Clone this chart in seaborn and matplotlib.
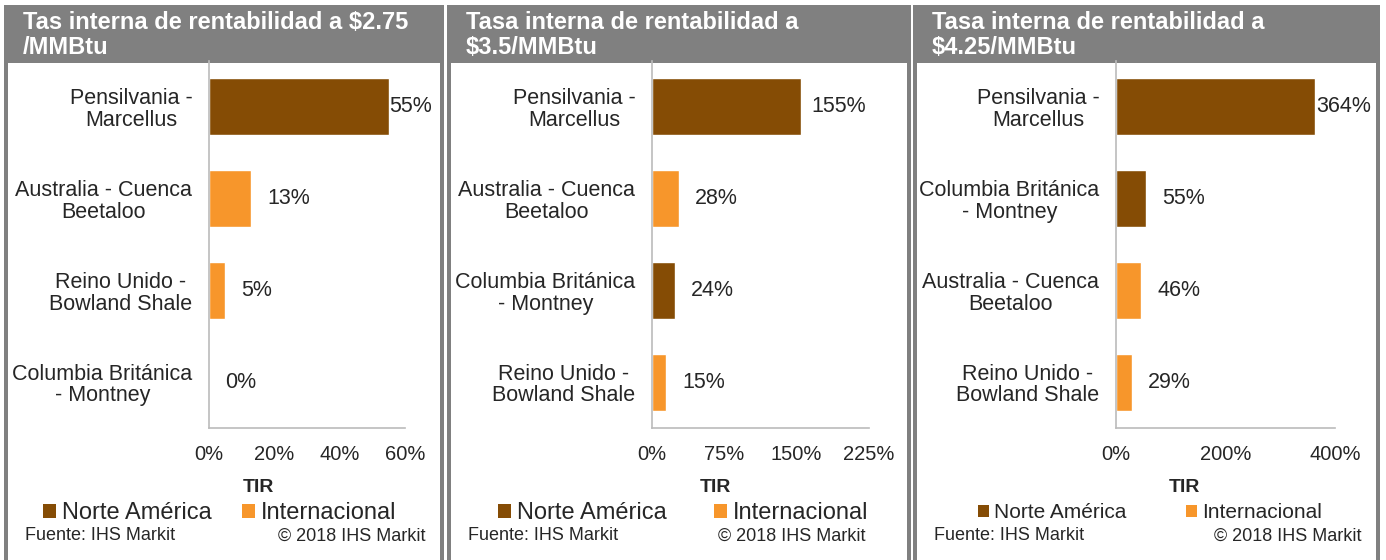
import matplotlib
matplotlib.use('Agg')
import matplotlib.pyplot as plt
from matplotlib.patches import Rectangle, Patch
import pandas as pd
import seaborn as sns

# datos
titles = ['Tas interna de rentabilidad a $2.75\n/MMBtu',
          'Tasa interna de rentabilidad a\n$3.5/MMBtu',
          'Tasa interna de rentabilidad a\n$4.25/MMBtu']
cats_1 = ['Pensilvania -\nMarcellus', 'Australia - Cuenca\nBeetaloo',
          'Reino Unido -\nBowland Shale', 'Columbia Británica\n- Montney']
vals_1 = [55, 13, 5, 0]
reg_1 = ['Norte América', 'Internacional', 'Internacional', 'Norte América']
cats_2 = ['Pensilvania -\nMarcellus', 'Australia - Cuenca\nBeetaloo',
          'Columbia Británica\n- Montney', 'Reino Unido -\nBowland Shale']
vals_2 = [155, 28, 24, 15]
reg_2 = ['Norte América', 'Internacional', 'Norte América', 'Internacional']
cats_3 = ['Pensilvania -\nMarcellus', 'Columbia Británica\n- Montney',
          'Australia - Cuenca\nBeetaloo', 'Reino Unido -\nBowland Shale']
vals_3 = [364, 55, 46, 29]
reg_3 = ['Norte América', 'Norte América', 'Internacional', 'Internacional']
xticks_1 = [0, 20, 40, 60]
xticks_2 = [0, 75, 150, 225]
xticks_3 = [0, 200, 400]
regions = ['Norte América', 'Internacional']
colors = {'Norte América': '#854C05', 'Internacional': '#F7962B'}

sns.set_style('white')
plt.rcParams['font.family'] = ['Liberation Sans', 'DejaVu Sans']

W, H = 1386, 560
fig = plt.figure(figsize=(W / 100, H / 100), dpi=100)
grey = '#808080'
axcol = '#BBBBBB'


def fx(px):
    return px / W


def fy(py):
    return 1 - py / H


# (panel left, panel right, axes left, axes right, TIR x, legend center, colspacing, legend size, label offset max, copyright x)
panels = [
    (4, 444, 209, 405, 258, 220, 1.3, 17, 1, 426),
    (447, 911, 652, 869, 715, 683, 2.0, 17, 10, 866),
    (913, 1380, 1116, 1335, 1184, 1150, 2.85, 15, 1, 1362),
]
data = [(cats_1, vals_1, reg_1, xticks_1),
        (cats_2, vals_2, reg_2, xticks_2),
        (cats_3, vals_3, reg_3, xticks_3)]

for i, (p, d, title) in enumerate(zip(panels, data, titles)):
    pl, pr, al, ar, tirx, legx, colsp, legsize, offmax, copx = p
    cats, vals, reg, xt = d
    # marco del panel
    fig.patches.append(Rectangle((fx(pl), fy(H + 5)), fx(pr - pl), fy(5) - fy(H + 5),
                                 transform=fig.transFigure, facecolor=grey,
                                 edgecolor='none', zorder=-2))
    fig.patches.append(Rectangle((fx(pl + 4), fy(H + 5)), fx(pr - pl - 8), fy(63) - fy(H + 5),
                                 transform=fig.transFigure, facecolor='white',
                                 edgecolor='none', zorder=-1))
    fig.text(fx(pl + 19), fy(35), title, color='white', fontsize=17,
             fontweight='bold', va='center', ha='left', linespacing=1.12)

    ax = fig.add_axes([fx(al), fy(428), fx(ar - al), fy(61) - fy(428)])
    df = pd.DataFrame({'cat': cats, 'tir': vals, 'reg': reg})
    sns.barplot(data=df, x='tir', y='cat', hue='reg', hue_order=regions,
                palette=colors, orient='h', dodge=False, width=0.62,
                legend=False, ax=ax, saturation=1)
    ax.set_facecolor('none')
    ax.set_xlim(xt[0], xt[-1])
    ax.set_ylim(3.5, -0.5)
    ax.set_xticks(xt)
    ax.set_xticklabels([f'{t}%' for t in xt], fontsize=14.5)
    ax.set_xlabel('')
    ax.set_ylabel('')
    ax.tick_params(axis='y', length=0, pad=12, labelsize=15.5)
    for lab in ax.get_yticklabels():
        lab.set_multialignment('center')
        lab.set_linespacing(1.05)
    ax.set_yticks([-0.5, 0.5, 1.5, 2.5, 3.5], minor=True)
    ax.tick_params(axis='y', which='minor', length=4, width=1.2, color=axcol, direction='out')
    ax.tick_params(axis='x', length=5, width=1.2, color=axcol, direction='out', pad=7)
    for s in ['top', 'right']:
        ax.spines[s].set_visible(False)
    for s in ['left', 'bottom']:
        ax.spines[s].set_color(axcol)
        ax.spines[s].set_linewidth(1.2)

    vmax = max(vals)
    for j, v in enumerate(vals):
        off = offmax if v == vmax else 16
        ax.annotate(f'{v}%', (v, j), xytext=(off * 0.72, 0), textcoords='offset points',
                    ha='left', va='center', fontsize=15.5, annotation_clip=False)

    fig.text(fx(tirx), fy(488), 'TIR', fontsize=14, fontweight='bold', ha='center', va='center')
    handles = [Patch(facecolor=colors[r], edgecolor='none', label=r) for r in regions]
    fig.legend(handles=handles, loc='center', bbox_to_anchor=(fx(legx), fy(513)),
               ncol=2, frameon=False, fontsize=legsize, handlelength=0.55,
               handleheight=0.55, handletextpad=0.25, columnspacing=colsp,
               borderpad=0, borderaxespad=0)
    fig.text(fx(pl + 21), fy(536), 'Fuente: IHS Markit', fontsize=13, ha='left', va='center')
    fig.text(fx(copx), fy(536), '© 2018 IHS Markit', fontsize=13, ha='right', va='center')

fig.savefig('out.png', dpi=100, facecolor='white')
